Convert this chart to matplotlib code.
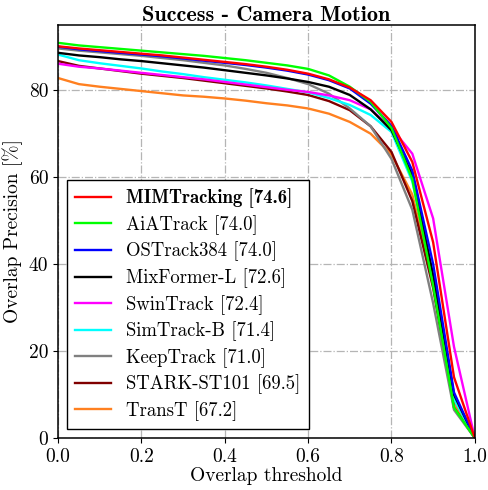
import matplotlib
matplotlib.use("Agg")
import matplotlib.pyplot as plt
from matplotlib.font_manager import FontProperties
import numpy as np

plt.rcParams['font.family'] = 'serif'
plt.rcParams['font.serif'] = ['cmr10']
plt.rcParams['mathtext.fontset'] = 'cm'
plt.rcParams['axes.unicode_minus'] = False
plt.rcParams['axes.formatter.use_mathtext'] = True

# Overlap thresholds
thresholds = [0.0, 0.05, 0.1, 0.15, 0.2, 0.25, 0.3, 0.35, 0.4, 0.45, 0.5,
              0.55, 0.6, 0.65, 0.7, 0.75, 0.8, 0.85, 0.9, 0.95, 1.0]

# Success values per tracker
mimtracking = [90.1, 89.6, 89.2, 88.8, 88.4, 88.0, 87.5, 87.0, 86.5, 86.0, 85.4,
               84.7, 83.8, 82.5, 80.6, 77.7, 72.7, 63.5, 45.0, 14.0, 0.0]
aiatrack = [90.9, 90.3, 89.9, 89.5, 89.1, 88.7, 88.3, 87.9, 87.4, 86.9, 86.3,
            85.7, 84.9, 83.4, 80.8, 77.3, 71.3, 59.5, 35.0, 7.0, 0.0]
ostrack384 = [90.0, 89.4, 89.0, 88.6, 88.2, 87.8, 87.3, 86.8, 86.3, 85.8, 85.2,
              84.5, 83.6, 82.3, 80.4, 76.9, 71.8, 61.5, 40.0, 10.5, 0.0]
mixformer_l = [88.6, 88.0, 87.6, 87.1, 86.7, 86.2, 85.7, 85.2, 84.6, 84.0, 83.4,
               82.7, 81.9, 80.8, 78.9, 75.6, 70.8, 60.5, 37.5, 10.0, 0.0]
swintrack = [86.1, 85.4, 85.0, 84.5, 84.0, 83.5, 83.0, 82.5, 81.9, 81.3, 80.7,
             80.1, 79.6, 78.8, 77.7, 75.6, 71.3, 65.4, 50.5, 21.0, 0.0]
simtrack_b = [88.2, 86.9, 86.2, 85.6, 85.0, 84.3, 83.7, 83.0, 82.4, 81.8, 81.1,
              80.3, 79.5, 78.2, 76.6, 74.3, 70.4, 59.0, 37.0, 9.0, 0.0]
keeptrack = [89.6, 89.1, 88.7, 88.3, 87.9, 87.4, 86.9, 86.3, 85.7, 84.9, 84.0,
             82.8, 81.4, 79.2, 75.8, 71.7, 64.2, 52.5, 31.0, 6.5, 0.0]
stark_st101 = [86.7, 85.6, 85.0, 84.4, 83.8, 83.3, 82.8, 82.2, 81.6, 81.0, 80.4,
               79.7, 78.9, 77.5, 75.4, 71.7, 65.8, 54.5, 34.5, 7.0, 0.0]
transt = [82.8, 81.4, 80.8, 80.3, 79.8, 79.3, 78.8, 78.5, 78.1, 77.6, 77.0,
          76.5, 75.8, 74.6, 72.7, 70.0, 65.2, 56.0, 36.0, 8.0, 0.0]

names = ['MIMTracking', 'AiATrack', 'OSTrack384', 'MixFormer-L', 'SwinTrack',
         'SimTrack-B', 'KeepTrack', 'STARK-ST101', 'TransT']
scores = [74.6, 74.0, 74.0, 72.6, 72.4, 71.4, 71.0, 69.5, 67.2]
curves = [mimtracking, aiatrack, ostrack384, mixformer_l, swintrack,
          simtrack_b, keeptrack, stark_st101, transt]
colors = ['#ff0000', '#00ff00', '#0000ff', '#000000', '#ff00ff',
          '#00ffff', '#808080', '#800000', '#ff8020']

fig = plt.figure(figsize=(4.88, 4.90), dpi=100)
ax = fig.add_axes([0.119, 0.106, 0.854, 0.843])

# draw lowest-ranked first so the best tracker sits on top
for i in reversed(range(len(names))):
    ax.plot(thresholds, curves[i], color=colors[i], linewidth=1.7,
            label='%s [%.1f]' % (names[i], scores[i]))

ax.set_xlim(0, 1)
ax.set_ylim(0, 95)
ax.set_xticks([0.0, 0.2, 0.4, 0.6, 0.8, 1.0])
ax.set_xticklabels(['0.0', '0.2', '0.4', '0.6', '0.8', '1.0'])
ax.set_yticks([0, 20, 40, 60, 80])
ax.set_yticklabels(['0', '20', '40', '60', '80'])
ax.tick_params(labelsize=14)
ax.grid(True, linestyle='-.', color='#b5b5b5', linewidth=0.9)
for s in ax.spines.values():
    s.set_linewidth(1.1)

ax.set_xlabel('Overlap threshold', fontsize=14, labelpad=1)
ax.set_ylabel('Overlap Precision [%]', fontsize=14, labelpad=4)
ax.set_title('Success - Camera Motion',
             fontproperties=FontProperties(family='cmb10', size=16), pad=3)

handles, labels = ax.get_legend_handles_labels()
handles = handles[::-1]
labels = labels[::-1]
leg = ax.legend(handles, labels, loc='lower left', bbox_to_anchor=(0.008, 0.008),
                fontsize=13.5, fancybox=False, edgecolor='black', framealpha=1,
                handlelength=1.9, handletextpad=0.8, labelspacing=0.36,
                borderpad=0.45, borderaxespad=0.3)
leg.get_frame().set_linewidth(1.0)
leg.get_texts()[0].set_fontproperties(FontProperties(family='cmb10', size=13.5))

fig.savefig('out.png', dpi=100)
